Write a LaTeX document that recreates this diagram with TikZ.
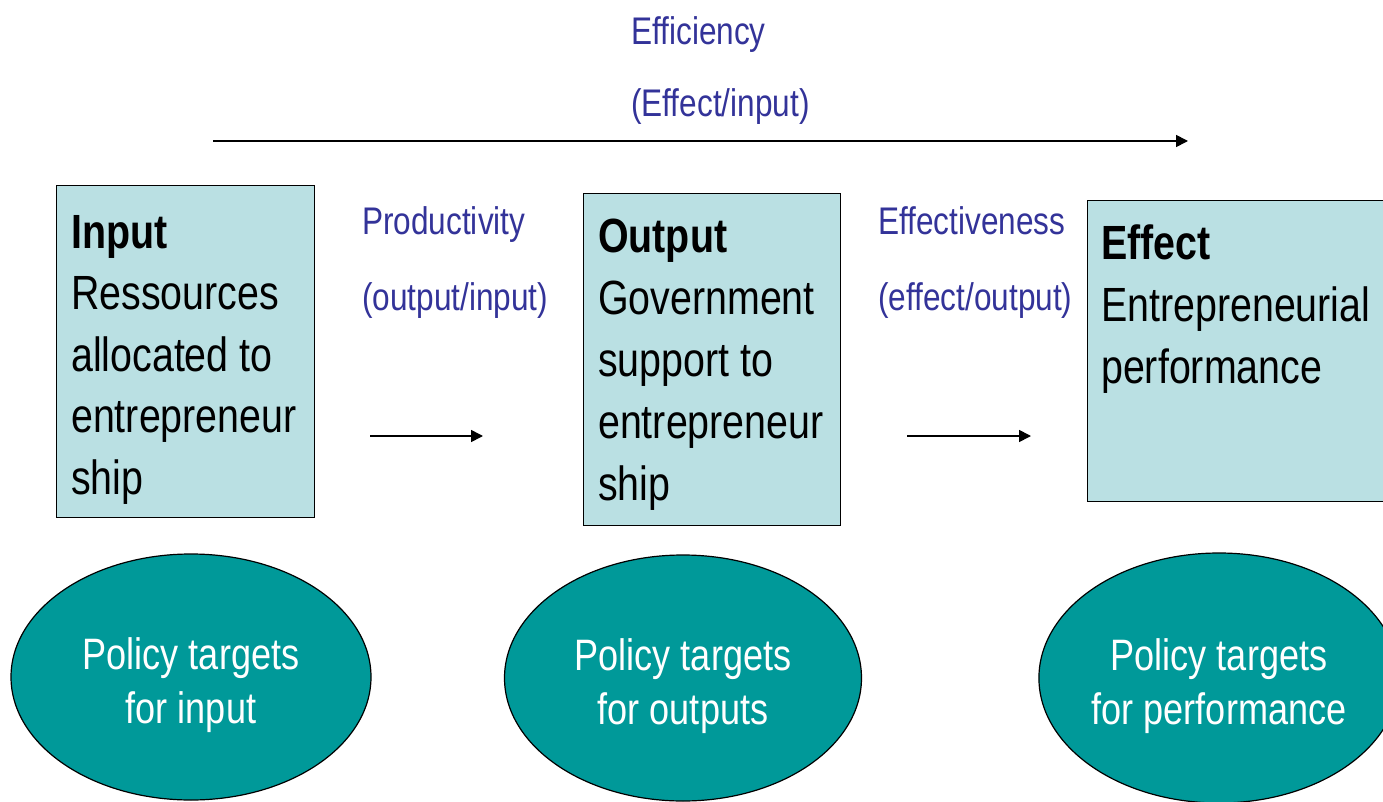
\documentclass[tikz,border=0pt]{standalone}
\usepackage{fontspec}
\setmainfont{Liberation Sans}[FakeStretch=0.82]
\usetikzlibrary{shapes.geometric,arrows.meta}
\definecolor{boxblue}{RGB}{186,224,227}
\definecolor{tealfill}{RGB}{0,153,153}
\definecolor{labelblue}{RGB}{51,51,153}
\tikzset{
  stage/.style={draw=black, line width=1.2pt, fill=boxblue, inner sep=0pt, anchor=north west},
  stagetext/.style={anchor=north west, inner sep=0pt, align=left, font=\fontsize{48}{62}\selectfont},
  target/.style={ellipse, draw=black, line width=1.2pt, fill=tealfill, text=white, align=center,
                 inner sep=0pt, font=\fontsize{44}{54}\selectfont},
  ratio/.style={anchor=north west, inner sep=0pt, align=left, text=labelblue, font=\fontsize{38.5}{74}\selectfont},
  flow/.style={line width=1.6pt, -{Triangle[length=12pt,width=12pt]}}
}
\begin{document}
\begin{tikzpicture}[x=1pt,y=-1pt]
        \useasboundingbox (0,0) rectangle (1383,802);
        \clip (0,0) rectangle (1383,802);

        % Boxes
        \node[stage, minimum width=258pt, minimum height=332pt] (input) at (56,185) {};
        \node[stage, minimum width=257pt, minimum height=332pt] (output) at (583,193) {};
        \node[stage, minimum width=310pt, minimum height=301pt] (effect) at (1087,200) {};

        \node[stagetext] (inputtext) at (71,215) {\textbf{Input}\\[-0.5pt]Ressources\\[-0.5pt]allocated to\\[-0.5pt]entrepreneur\\[-0.5pt]ship};
        \node[stagetext] (outputtext) at (598,219) {\textbf{Output}\\Government\\support to\\entrepreneur\\ship};
        \node[stagetext] (effecttext) at (1101,225) {\textbf{Effect}\\Entrepreneurial\\performance};

        % Ratios between the stages
        \node[ratio] (efficiency) at (631,16) {Efficiency\\[-2pt](Effect/input)};
        \node[ratio] (productivity) at (362,206) {Productivity\\[2pt](output/input)};
        \node[ratio] (effectiveness) at (878,206) {Effectiveness\\[2pt](effect/output)};

        % Arrows
        \coordinate (topstart) at (213,141);
        \coordinate (topend) at (1188,141);
        \coordinate (prodstart) at (370,436);
        \coordinate (prodend) at (483,436);
        \coordinate (effstart) at (907,436);
        \coordinate (effend) at (1031,436);
        \draw[flow] (topstart) -- (topend);
        \draw[flow] (prodstart) -- (prodend);
        \draw[flow] (effstart) -- (effend);

        % Policy targets
        \node[target, minimum width=360pt, minimum height=246pt] (inputtarget) at (191,677) {\rule{0pt}{48pt}Policy targets\\for input};
        \node[target, minimum width=357pt, minimum height=246pt] (outputtarget) at (683,678) {\rule{0pt}{48pt}Policy targets\\for outputs};
        \node[target, minimum width=357pt, minimum height=250pt] (effecttarget) at (1219,678) {\rule{0pt}{48pt}Policy targets\\for performance};
\end{tikzpicture}
\end{document}
